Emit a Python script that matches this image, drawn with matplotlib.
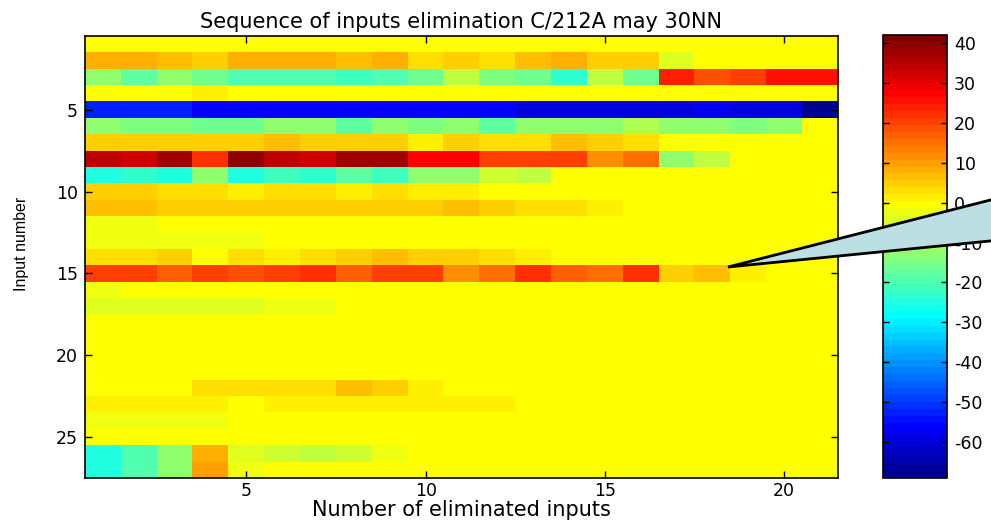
# input elimination heatmap with colorbar and callout

import numpy as np
import matplotlib
matplotlib.use("Agg")
import matplotlib.pyplot as plt
from matplotlib.colors import ListedColormap
from matplotlib.patches import Polygon

plt.rcParams['font.family'] = ['DejaVu Sans']
plt.rcParams['axes.unicode_minus'] = False

steps = np.arange(1, 22)    # number of eliminated inputs
inputs = np.arange(1, 28)   # input number

z = [0] * 21
r1 = z
r2 = [8.7, 8.7, 7, 4, 7.5, 8.7, 8.7, 6.5, 8.7, 3.8, 5.5, 3.5, 6, 7.5, 4, 5.5, -4.5, 0, 0, 0, 0]
r3 = [-13.5, -18.5, -13.5, -16, -19.5, -19.5, -19.5, -21, -20, -16, -7.5, -14, -16, -22.7, -7.5, -16,
      23.7, 18.5, 20.6, 24.9, 24.9]
r4 = [0, 0, 0, 2] + [0] * 17
r5 = [-53, -53, -53, -56.5, -56.5, -56.5, -56.5, -56.5, -56.5, -56.5, -56.5, -56.5, -59.5, -59.5,
      -59.5, -59.5, -59.5, -58, -59.5, -59.5, -68]
r6 = [-13.5, -15, -15, -16, -16, -13.5, -13.5, -17, -13.5, -14, -13.5, -17, -13.5, -13.5, -12.5, -10,
      -13.5, -13.5, -15, -13.5, 0]
r7 = [5, 5, 5, 5, 5, 7, 5.5, 5.5, 3.9, 2, 4.5, 3.5, 3.5, 7, 5, 3.5, 0, 0, 0, 0, 0]
r8 = [34.2, 32.8, 37.6, 22.9, 39.2, 34.2, 32.3, 37.6, 37.6, 27.2, 27.2, 19.8, 19.5, 20.6, 11, 15.3,
      -12.5, -7.5, 0, 0, 0]
r9 = [-25, -23, -25, -12.5, -24, -20.5, -22.7, -17, -21.5, -12.5, -13.5, -5.5, -7.5] + [0] * 8
r10 = [4.5, 4.5, 2.5, 2.5, 1, 2.5, 2.5, 0.5, 3, 1, 0.5] + [0] * 10
r11 = [6.5, 6.5, 5, 5, 5, 4, 4, 5, 5, 5, 6, 4.5, 3, 3, 0.5] + [0] * 6
r12 = [-2.2, -2.2] + [0] * 19
r13 = [-2.5] * 5 + [0] * 16
r14 = [3.5, 3.5, 5, 0, 3, 1, 3, 4.5, 6, 4, 5.5, 3, 0.5] + [0] * 8
r15 = [19.5, 20, 16.5, 20, 18.5, 20, 21.9, 16.5, 19.8, 19.8, 11.5, 15.3, 21.5, 17, 14.5, 21.5,
       4.5, 6, 0.5, 0, 0]
r16 = [-2.2] + [0] * 20
r17 = [-3.8] * 5 + [-2.8, -2.8] + [0] * 14
r18 = r19 = r20 = r21 = z
r22 = [0.3, 0.3, 0.3, 3.5, 3.5, 3.5, 3.5, 7, 5, 1.5, 0.3] + [0] * 10
r23 = [2, 2, 2, 2, 0, 2, 2, 2, 2, 2, 2, 2] + [0] * 9
r24 = [-2.2] * 4 + [0] * 17
r25 = z
r26 = [-25, -19.5, -13.5, 8.2, -4, -5.5, -7.5, -6.5, -2.2] + [0] * 12
r27 = [-25, -19.5, -13.5, 9.7, -2.2] + [0] * 16

data = np.array([r1, r2, r3, r4, r5, r6, r7, r8, r9, r10, r11, r12, r13, r14, r15, r16, r17,
                 r18, r19, r20, r21, r22, r23, r24, r25, r26, r27])


def matlab_jet(n=64):
    m = n // 4
    u = np.concatenate([np.arange(1, m + 1) / m, np.ones(m - 1), np.arange(m, 0, -1) / m])
    g = m // 2 + np.arange(len(u))
    J = np.zeros((n, 3))
    r = g + m
    b = g - m
    J[g[g < n], 1] = u[:np.sum(g < n)]
    J[r[r < n], 0] = u[:np.sum(r < n)]
    J[b[b >= 0], 2] = u[len(u) - np.sum(b >= 0):]
    return ListedColormap(J)


fig = plt.figure(figsize=(9.91, 5.26), dpi=100)
ax = fig.add_axes([85 / 991, 48 / 526, 753 / 991, 442 / 526])
cax = fig.add_axes([883 / 991, 48 / 526, 64 / 991, 443 / 526])

im = ax.imshow(data, cmap=matlab_jet(), vmin=-69, vmax=42, aspect='auto', interpolation='nearest',
               extent=[steps[0] - 0.5, steps[-1] + 0.5, inputs[-1] + 0.5, inputs[0] - 0.5])

ax.set_xticks([5, 10, 15, 20])
ax.set_yticks([5, 10, 15, 20, 25])
ax.tick_params(direction='in', top=True, right=True, length=5, width=1, labelsize=12.5)
ax.tick_params(axis='x', pad=3)
ax.tick_params(axis='y', pad=5)
for s in ax.spines.values():
    s.set_linewidth(1.2)
ax.set_title("Sequence of inputs elimination C/212A may 30NN", fontsize=15, pad=6)
ax.set_xlabel("Number of eliminated inputs", fontsize=15, labelpad=0)
ax.set_ylabel("Input number", fontsize=11.5, family='Liberation Sans')
ax.yaxis.set_label_coords(-0.075, 0.53)

cb = fig.colorbar(im, cax=cax)
cb.set_ticks(np.arange(-60, 41, 10))
cax.tick_params(direction='in', left=True, right=True, length=4, width=1, labelsize=12.5, pad=5)
cb.outline.set_linewidth(1.2)

# callout balloon pointing at input 15
W, H = 991, 526
tip = (728, 267)
pts = [(tip[0] / W, 1 - tip[1] / H), (1010 / W, 1 - 195 / H), (1010 / W, 1 - 239 / H)]
fig.add_artist(Polygon(pts, closed=True, transform=fig.transFigure, facecolor='#bcdfe3',
                       edgecolor='black', linewidth=2, zorder=10))

fig.savefig("out.png", dpi=100)
